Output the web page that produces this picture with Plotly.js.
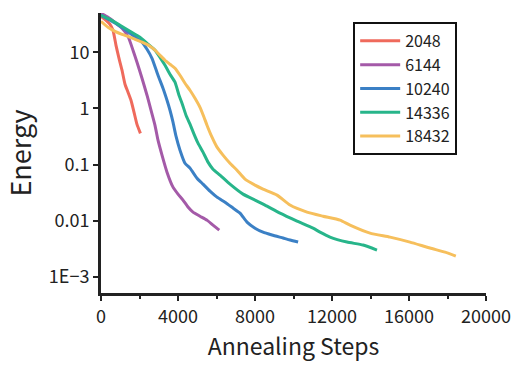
<!DOCTYPE html>
<html>
<head>
<meta charset="utf-8">
<script src="https://cdn.plot.ly/plotly-3.0.1.min.js"></script>
<style>html,body{margin:0;padding:0;background:#fff;}#chart{width:512px;height:366px;}</style>
</head>
<body>
<div id="chart"></div>
<script>
const seriesNames = ["2048", "6144", "10240", "14336", "18432"];
const seriesColors = ["#ef6a5c", "#a45aa8", "#3b80c5", "#27b58a", "#f6bf5c"];

const steps2048 = [0, 260, 468, 623, 779, 935, 1091, 1247, 1403, 1558, 1714, 1870, 2048];
const energy2048 = [43.6, 37.1, 31.5, 24.6, 13.3, 7.8, 4.8, 2.7, 1.95, 1.40, 0.86, 0.52, 0.36];

const steps6144 = [0, 364, 727, 1091, 1403, 1662, 1870, 2130, 2390, 2597, 2805, 2961, 3169, 3429, 3740, 4000, 4260, 4519, 4779, 5143, 5506, 5818, 6144];
const energy6144 = [49.4, 41.9, 34.1, 26.7, 19.2, 10.9, 6.64, 3.45, 1.72, 0.93, 0.50, 0.273, 0.148, 0.0736, 0.0398, 0.0299, 0.0234, 0.0176, 0.0143, 0.0121, 0.0103, 0.0084, 0.00685];

const steps10240 = [0, 468, 987, 1506, 1870, 2130, 2390, 2649, 2961, 3221, 3429, 3584, 3740, 3896, 4104, 4364, 4623, 4987, 5299, 5662, 6026, 6442, 6857, 7221, 7584, 8000, 8416, 8883, 9455, 9818, 10240];
const energy10240 = [45.5, 37.1, 29.0, 21.8, 17.7, 15.1, 11.3, 7.82, 3.90, 2.29, 1.40, 0.93, 0.57, 0.321, 0.181, 0.106, 0.0867, 0.0575, 0.045, 0.0338, 0.0264, 0.0215, 0.0169, 0.0137, 0.0095, 0.0074, 0.0063, 0.0056, 0.00494, 0.00455, 0.00419];

const steps14336 = [0, 468, 987, 1506, 2026, 2442, 2805, 3065, 3325, 3584, 3844, 4052, 4208, 4416, 4623, 4831, 5039, 5299, 5558, 5818, 6182, 6701, 7377, 8000, 8519, 9299, 10182, 11013, 11377, 11896, 12779, 13610, 14336];
const energy14336 = [45.5, 38.6, 30.2, 23.6, 18.5, 13.9, 10.9, 8.14, 5.87, 4.06, 2.93, 1.72, 1.24, 0.759, 0.525, 0.349, 0.241, 0.167, 0.111, 0.0831, 0.065, 0.045, 0.0299, 0.0234, 0.0191, 0.0137, 0.0099, 0.0074, 0.0063, 0.00514, 0.00419, 0.00371, 0.00302];

const steps18432 = [0, 364, 727, 1091, 1403, 1766, 2130, 2545, 2805, 3065, 3325, 3584, 3844, 4104, 4364, 4623, 4883, 5143, 5351, 5506, 5766, 6026, 6338, 6701, 7065, 7481, 8000, 8416, 9143, 9818, 10701, 11532, 12416, 12935, 13974, 15013, 16052, 17091, 17870, 18432];
const energy18432 = [35.6, 27.8, 23.6, 20.9, 19.2, 17.0, 15.1, 12.8, 10.9, 8.85, 7.21, 6.12, 5.20, 3.90, 2.81, 2.11, 1.52, 1.05, 0.70, 0.504, 0.308, 0.205, 0.148, 0.106, 0.0798, 0.0552, 0.0432, 0.0367, 0.0287, 0.0191, 0.0143, 0.0121, 0.0103, 0.0084, 0.00605, 0.00514, 0.00419, 0.00328, 0.00278, 0.00236];

const yTickVals = [0.001, 0.01, 0.1, 1, 10];
const yTickText = ["1E\u22123", "0.01", "0.1", "1", "10"];
const xTickVals = [0, 4000, 8000, 12000, 16000, 20000];
const xTickText = ["0", "4000", "8000", "12000", "16000", "20000"];

const allX = [steps2048, steps6144, steps10240, steps14336, steps18432];
const allY = [energy2048, energy6144, energy10240, energy14336, energy18432];

const FONT = "'Noto Sans CJK JP', 'Noto Sans', sans-serif";

const traces = seriesNames.map((name, i) => ({
  type: "scatter",
  mode: "lines",
  name: name,
  x: allX[i],
  y: allY[i],
  line: {color: seriesColors[i], width: 3, shape: "spline", smoothing: 0.5}
}));

const layout = {
  width: 512,
  height: 366,
  margin: {l: 101, r: 26, t: 13, b: 73, pad: 0},
  paper_bgcolor: "#ffffff",
  plot_bgcolor: "#ffffff",
  font: {family: FONT, size: 18, color: "#222222"},
  showlegend: true,
  legend: {
    x: 0.655, y: 0.968, xanchor: "left", yanchor: "top",
    bgcolor: "#ffffff", bordercolor: "#111111", borderwidth: 2,
    font: {family: FONT, size: 16, color: "#222222"},
    itemwidth: 40,
    tracegroupgap: 0
  },
  xaxis: {
    type: "linear",
    range: [0, 20000],
    tickmode: "array",
    tickvals: xTickVals,
    ticktext: xTickText,
    ticks: "outside", ticklen: 5, tickwidth: 2, tickcolor: "#222222",
    minor: {dtick: 2000, tick0: 0, ticks: "outside", ticklen: 3, tickwidth: 2, tickcolor: "#222222", showgrid: false},
    showline: true, linecolor: "#222222", linewidth: 3,
    showgrid: false, zeroline: false,
    tickfont: {family: FONT, size: 18, color: "#222222"},
    title: {text: "Annealing Steps", font: {family: FONT, size: 23, color: "#222222"}, standoff: 12}
  },
  yaxis: {
    type: "log",
    range: [Math.log10(5.2e-4), Math.log10(50)],
    tickmode: "array",
    tickvals: yTickVals,
    ticktext: yTickText,
    ticks: "outside", ticklen: 5, tickwidth: 2, tickcolor: "#222222",
    showline: true, linecolor: "#222222", linewidth: 3,
    showgrid: false, zeroline: false,
    tickfont: {family: FONT, size: 18, color: "#222222"},
    title: {text: "Energy", font: {family: FONT, size: 27, color: "#222222"}, standoff: 10}
  }
};

Plotly.newPlot("chart", traces, layout, {displayModeBar: false, staticPlot: true});
</script>
</body>
</html>
